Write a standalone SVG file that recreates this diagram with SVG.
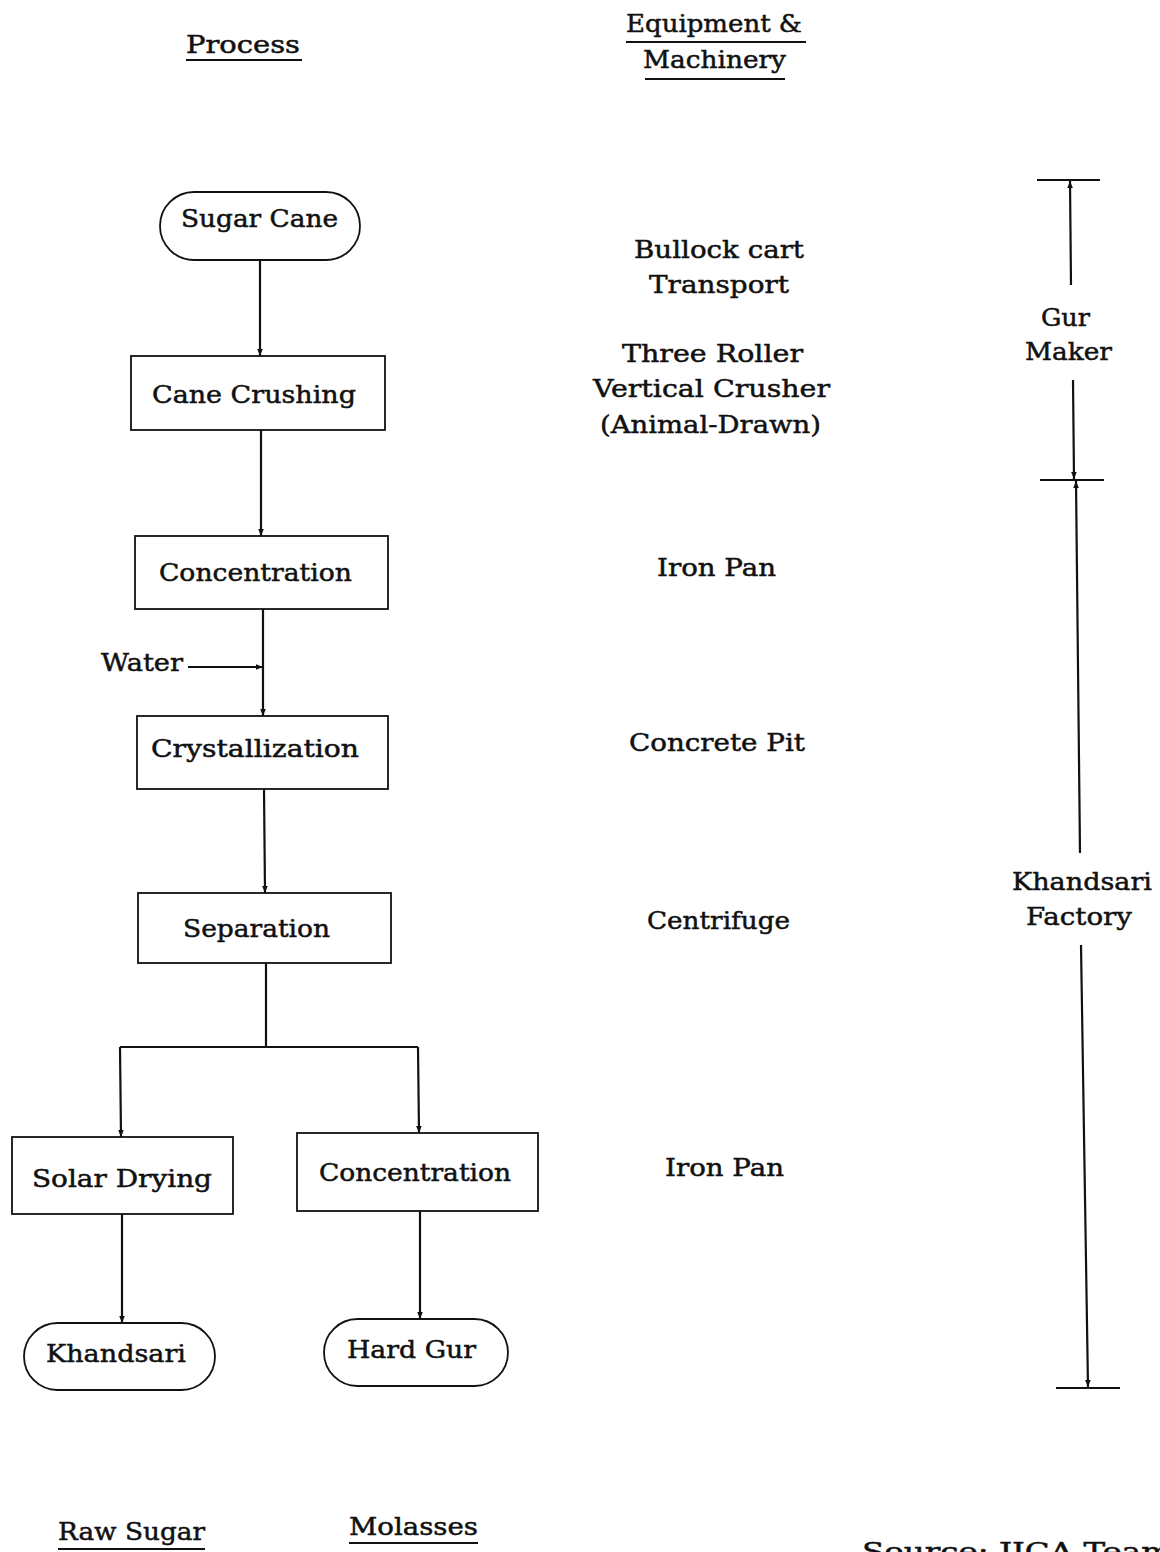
<svg xmlns="http://www.w3.org/2000/svg" width="1160" height="1552" viewBox="0 0 1160 1552">
<style>
text{font-family:"DejaVu Serif","Liberation Serif",serif;font-size:25px;fill:#111;stroke:#111;stroke-width:0.5}
.n rect{fill:#fff;stroke:#111;stroke-width:1.8}
.c line,.c path{stroke:#111;stroke-width:2.2;fill:none}
.u{stroke:#111;stroke-width:2.2}
</style>
<defs>
<marker id="a" viewBox="0 0 10 10" refX="10" refY="5" markerWidth="9" markerHeight="7" orient="auto" markerUnits="userSpaceOnUse"><path d="M0,1 L10,5 L0,9 Z" fill="#111"/></marker>
</defs>
<rect width="1160" height="1552" fill="#fff"/>

<g id="headers">
<text x="186" y="53" textLength="114" lengthAdjust="spacingAndGlyphs">Process</text>
<line class="u" x1="186" y1="60" x2="302" y2="60"/>
<text x="626" y="32" textLength="176" lengthAdjust="spacingAndGlyphs">Equipment &amp;</text>
<line class="u" x1="626" y1="42" x2="806" y2="42"/>
<text x="643" y="68" textLength="143" lengthAdjust="spacingAndGlyphs">Machinery</text>
<line class="u" x1="645" y1="79" x2="785" y2="79"/>
</g>

<g class="c" id="connectors">
<line x1="260" y1="260" x2="260" y2="356" marker-end="url(#a)"/>
<line x1="261" y1="430" x2="261" y2="536" marker-end="url(#a)"/>
<line x1="263" y1="609" x2="263" y2="716" marker-end="url(#a)"/>
<line x1="188" y1="667" x2="263" y2="667" marker-end="url(#a)"/>
<line x1="264" y1="789" x2="265" y2="893" marker-end="url(#a)"/>
<line x1="266" y1="963" x2="266" y2="1047"/>
<line x1="120" y1="1047" x2="418" y2="1047"/>
<line x1="120" y1="1047" x2="121" y2="1137" marker-end="url(#a)"/>
<line x1="418" y1="1047" x2="419" y2="1133" marker-end="url(#a)"/>
<line x1="122" y1="1214" x2="122" y2="1323" marker-end="url(#a)"/>
<line x1="420" y1="1211" x2="420" y2="1319" marker-end="url(#a)"/>
</g>

<g class="n">
<g id="sugar-cane"><rect x="160" y="192" width="200" height="68" rx="34"/><text x="181" y="227" textLength="157" lengthAdjust="spacingAndGlyphs">Sugar Cane</text></g>
<g id="cane-crushing"><rect x="131" y="356" width="254" height="74"/><text x="152" y="403" textLength="204" lengthAdjust="spacingAndGlyphs">Cane Crushing</text></g>
<g id="concentration-1"><rect x="135" y="536" width="253" height="73"/><text x="159" y="581" textLength="193" lengthAdjust="spacingAndGlyphs">Concentration</text></g>
<g id="water"><text x="101" y="671" textLength="82" lengthAdjust="spacingAndGlyphs">Water</text></g>
<g id="crystallization"><rect x="137" y="716" width="251" height="73"/><text x="151" y="757" textLength="208" lengthAdjust="spacingAndGlyphs">Crystallization</text></g>
<g id="separation"><rect x="138" y="893" width="253" height="70"/><text x="183" y="937" textLength="147" lengthAdjust="spacingAndGlyphs">Separation</text></g>
<g id="solar-drying"><rect x="12" y="1137" width="221" height="77"/><text x="32" y="1187" textLength="180" lengthAdjust="spacingAndGlyphs">Solar Drying</text></g>
<g id="concentration-2"><rect x="297" y="1133" width="241" height="78"/><text x="319" y="1181" textLength="192" lengthAdjust="spacingAndGlyphs">Concentration</text></g>
<g id="khandsari"><rect x="24" y="1323" width="191" height="67" rx="33.5"/><text x="46" y="1362" textLength="140" lengthAdjust="spacingAndGlyphs">Khandsari</text></g>
<g id="hard-gur"><rect x="324" y="1319" width="184" height="67" rx="33.5"/><text x="347" y="1358" textLength="129" lengthAdjust="spacingAndGlyphs">Hard Gur</text></g>
</g>

<g id="equipment">
<text x="634" y="258" textLength="170" lengthAdjust="spacingAndGlyphs">Bullock cart</text>
<text x="649" y="293" textLength="140" lengthAdjust="spacingAndGlyphs">Transport</text>
<text x="622" y="362" textLength="181" lengthAdjust="spacingAndGlyphs">Three Roller</text>
<text x="593" y="397" textLength="237" lengthAdjust="spacingAndGlyphs">Vertical Crusher</text>
<text x="600" y="433" textLength="221" lengthAdjust="spacingAndGlyphs">(Animal-Drawn)</text>
<text x="657" y="576" textLength="119" lengthAdjust="spacingAndGlyphs">Iron Pan</text>
<text x="629" y="751" textLength="176" lengthAdjust="spacingAndGlyphs">Concrete Pit</text>
<text x="647" y="929" textLength="143" lengthAdjust="spacingAndGlyphs">Centrifuge</text>
<text x="665" y="1176" textLength="119" lengthAdjust="spacingAndGlyphs">Iron Pan</text>
</g>

<g class="c" id="ranges">
<line x1="1037" y1="180" x2="1100" y2="180"/>
<line x1="1071" y1="285" x2="1070" y2="181" marker-end="url(#a)"/>
<line x1="1073" y1="380" x2="1074" y2="479" marker-end="url(#a)"/>
<line x1="1040" y1="480" x2="1104" y2="480"/>
<line x1="1080" y1="853" x2="1076" y2="481" marker-end="url(#a)"/>
<line x1="1081" y1="945" x2="1088" y2="1387" marker-end="url(#a)"/>
<line x1="1056" y1="1388" x2="1120" y2="1388"/>
</g>
<g id="range-labels">
<text x="1041" y="326" textLength="49" lengthAdjust="spacingAndGlyphs">Gur</text>
<text x="1025" y="360" textLength="87" lengthAdjust="spacingAndGlyphs">Maker</text>
<text x="1012" y="890" textLength="140" lengthAdjust="spacingAndGlyphs">Khandsari</text>
<text x="1026" y="925" textLength="106" lengthAdjust="spacingAndGlyphs">Factory</text>
</g>

<g id="footer">
<text x="58" y="1540" textLength="147" lengthAdjust="spacingAndGlyphs">Raw Sugar</text>
<line class="u" x1="58" y1="1549" x2="205" y2="1549"/>
<text x="349" y="1535" textLength="129" lengthAdjust="spacingAndGlyphs">Molasses</text>
<line class="u" x1="349" y1="1543" x2="478" y2="1543"/>
<text x="862" y="1560" textLength="310" lengthAdjust="spacingAndGlyphs">Source:   JICA Team</text>
</g>
</svg>
